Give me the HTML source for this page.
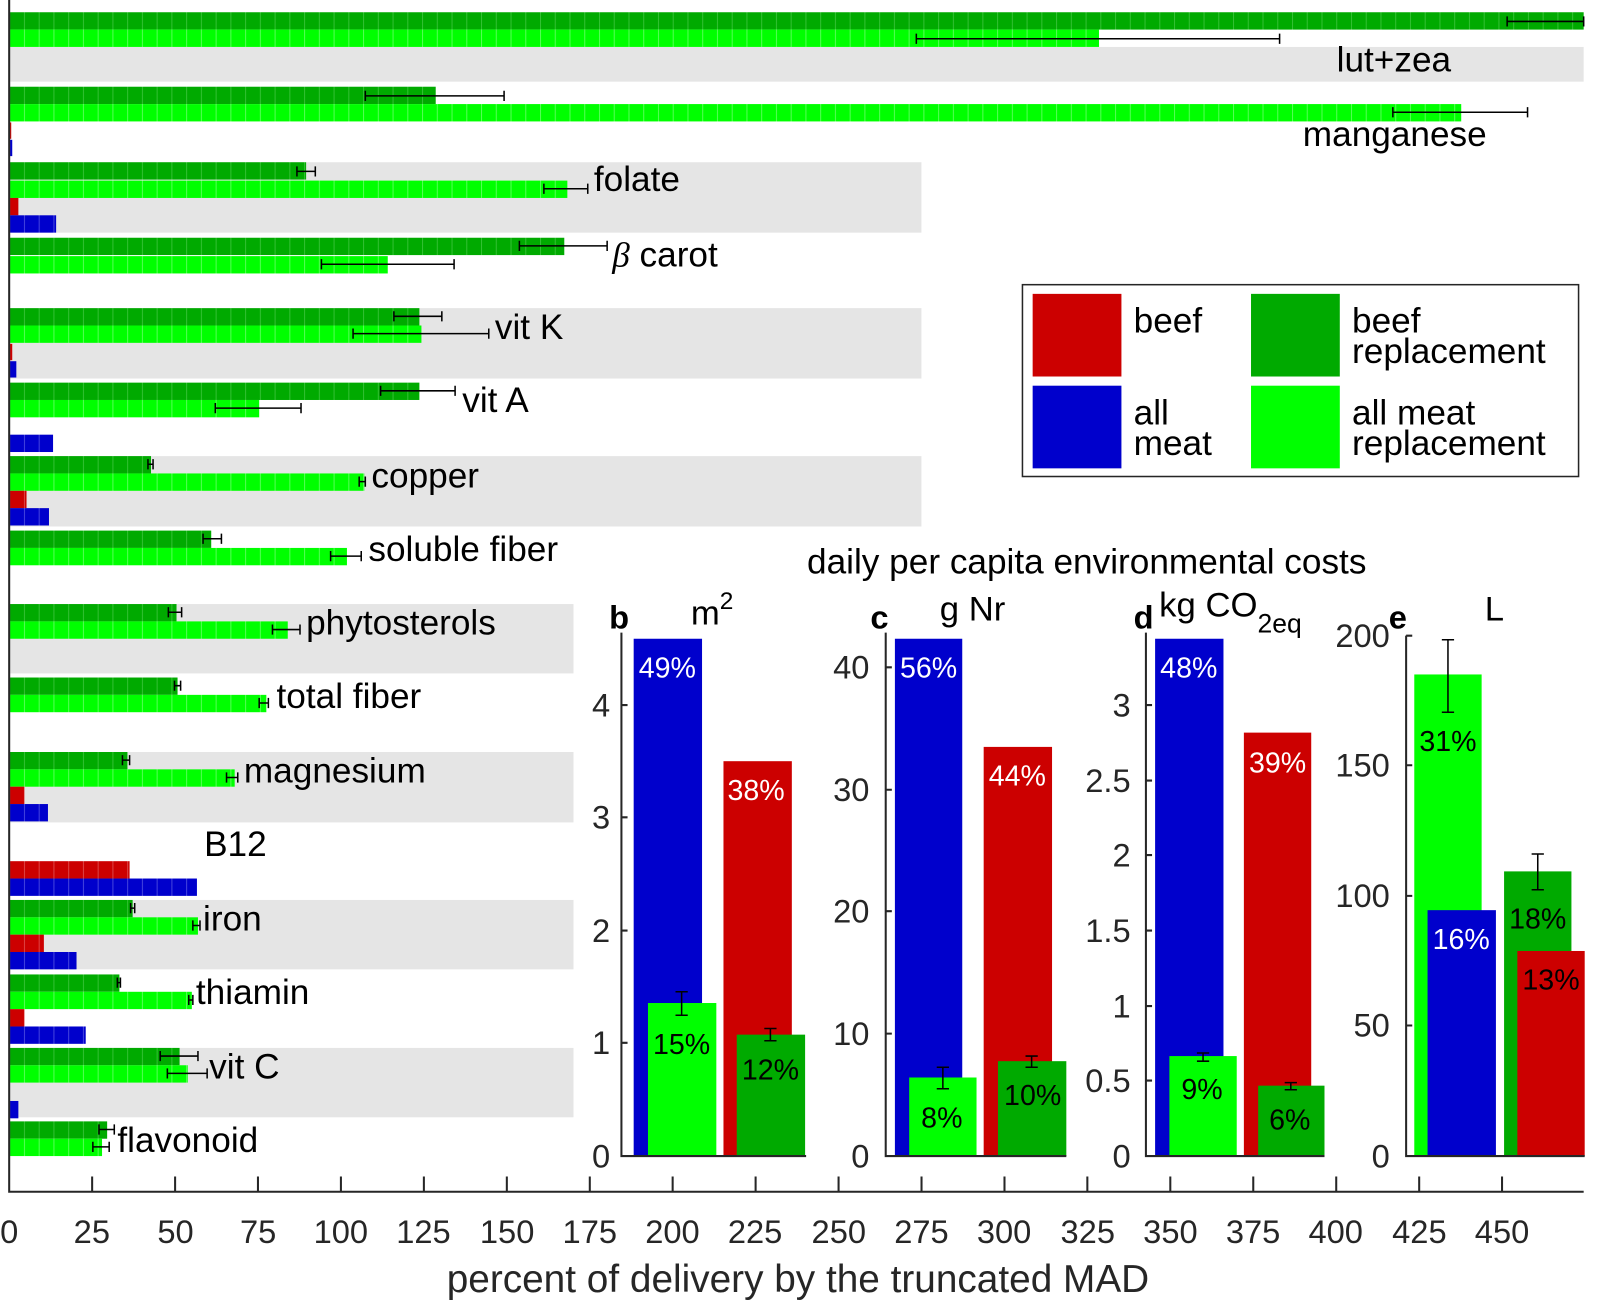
<!DOCTYPE html>
<html><head><meta charset="utf-8"><style>
html,body{margin:0;padding:0;background:#fff;}
svg{display:block;font-family:"Liberation Sans",sans-serif;}
</style></head><body>
<svg width="1600" height="1303" viewBox="0 0 1568 1277" preserveAspectRatio="none" xmlns="http://www.w3.org/2000/svg">
<defs>
<pattern id="pd" patternUnits="userSpaceOnUse" width="14.45" height="20" x="9"><rect width="14.45" height="20" fill="#00aa00"/><rect width="1" height="20" fill="#33c033"/></pattern>
<pattern id="pl" patternUnits="userSpaceOnUse" width="14.45" height="20" x="9"><rect width="14.45" height="20" fill="#00ff00"/><rect width="1" height="20" fill="#55ff55"/></pattern>
<pattern id="pr" patternUnits="userSpaceOnUse" width="14.45" height="20" x="9"><rect width="14.45" height="20" fill="#cc0000"/><rect width="1" height="20" fill="#dd4444"/></pattern>
<pattern id="pb" patternUnits="userSpaceOnUse" width="14.45" height="20" x="9"><rect width="14.45" height="20" fill="#0000cc"/><rect width="1" height="20" fill="#4444dd"/></pattern>
</defs>
<g fill="#e5e5e5">
<rect x="9" y="46" width="1543" height="34"/>
<rect x="9" y="159" width="894" height="69"/>
<rect x="9" y="302" width="894" height="69"/>
<rect x="9" y="447" width="894" height="69"/>
<rect x="9" y="592" width="553" height="68"/>
<rect x="9" y="737" width="553" height="69"/>
<rect x="9" y="882" width="553" height="68"/>
<rect x="9" y="1027" width="553" height="68"/>
</g>
<g>
<rect x="9" y="12" width="1543" height="17" fill="url(#pd)"/>
<rect x="9" y="29" width="1068" height="17" fill="url(#pl)"/>
<rect x="9" y="85" width="418" height="17" fill="url(#pd)"/>
<rect x="9" y="102" width="1423" height="17" fill="url(#pl)"/>
<rect x="9" y="120" width="2" height="16" fill="url(#pr)"/>
<rect x="9" y="137" width="3" height="16" fill="url(#pb)"/>
<rect x="9" y="159" width="291" height="17" fill="url(#pd)"/>
<rect x="9" y="177" width="547" height="17" fill="url(#pl)"/>
<rect x="9" y="194" width="9" height="17" fill="url(#pr)"/>
<rect x="9" y="211" width="46" height="17" fill="url(#pb)"/>
<rect x="9" y="233" width="544" height="17" fill="url(#pd)"/>
<rect x="9" y="251" width="371" height="17" fill="url(#pl)"/>
<rect x="9" y="302" width="402" height="17" fill="url(#pd)"/>
<rect x="9" y="319" width="404" height="17" fill="url(#pl)"/>
<rect x="9" y="337" width="3" height="16" fill="url(#pr)"/>
<rect x="9" y="354" width="7" height="16" fill="url(#pb)"/>
<rect x="9" y="375" width="402" height="17" fill="url(#pd)"/>
<rect x="9" y="392" width="245" height="17" fill="url(#pl)"/>
<rect x="9" y="426" width="43" height="17" fill="url(#pb)"/>
<rect x="9" y="447" width="139" height="17" fill="url(#pd)"/>
<rect x="9" y="464" width="348" height="17" fill="url(#pl)"/>
<rect x="9" y="481" width="17" height="17" fill="url(#pr)"/>
<rect x="9" y="498" width="39" height="17" fill="url(#pb)"/>
<rect x="9" y="520" width="198" height="17" fill="url(#pd)"/>
<rect x="9" y="537" width="331" height="17" fill="url(#pl)"/>
<rect x="9" y="592" width="164" height="17" fill="url(#pd)"/>
<rect x="9" y="609" width="273" height="17" fill="url(#pl)"/>
<rect x="9" y="664" width="165" height="17" fill="url(#pd)"/>
<rect x="9" y="681" width="252" height="17" fill="url(#pl)"/>
<rect x="9" y="737" width="116" height="17" fill="url(#pd)"/>
<rect x="9" y="754" width="221" height="17" fill="url(#pl)"/>
<rect x="9" y="771" width="15" height="17" fill="url(#pr)"/>
<rect x="9" y="788" width="38" height="17" fill="url(#pb)"/>
<rect x="9" y="844" width="118" height="17" fill="url(#pr)"/>
<rect x="9" y="861" width="184" height="17" fill="url(#pb)"/>
<rect x="9" y="882" width="121" height="17" fill="url(#pd)"/>
<rect x="9" y="899" width="185" height="17" fill="url(#pl)"/>
<rect x="9" y="916" width="34" height="17" fill="url(#pr)"/>
<rect x="9" y="933" width="66" height="17" fill="url(#pb)"/>
<rect x="9" y="955" width="108" height="17" fill="url(#pd)"/>
<rect x="9" y="972" width="179" height="17" fill="url(#pl)"/>
<rect x="9" y="989" width="15" height="17" fill="url(#pr)"/>
<rect x="9" y="1006" width="75" height="17" fill="url(#pb)"/>
<rect x="9" y="1027" width="167" height="17" fill="url(#pd)"/>
<rect x="9" y="1044" width="175" height="17" fill="url(#pl)"/>
<rect x="9" y="1079" width="9" height="17" fill="url(#pb)"/>
<rect x="9" y="1099" width="96" height="17" fill="url(#pd)"/>
<rect x="9" y="1116" width="91" height="17" fill="url(#pl)"/>
</g>
<g stroke="#000" stroke-width="1.5" fill="none">
<path d="M1477 21H1552M1477 16V26M1552 16V26"/>
<path d="M898 38H1254M898 33V43M1254 33V43"/>
<path d="M358 94H494M358 89V99M494 89V99"/>
<path d="M1365 110H1497M1365 105V115M1497 105V115"/>
<path d="M291 168H309M291 163V173M309 163V173"/>
<path d="M533 185H576M533 180V190M576 180V190"/>
<path d="M509 241H595M509 236V246M595 236V246"/>
<path d="M315 259H445M315 254V264M445 254V264"/>
<path d="M386 310H433M386 305V315M433 305V315"/>
<path d="M346 327H479M346 322V332M479 322V332"/>
<path d="M373 383H446M373 378V388M446 378V388"/>
<path d="M211 400H295M211 395V405M295 395V405"/>
<path d="M145 455H150M145 450V460M150 450V460"/>
<path d="M352 472H358M352 467V477M358 467V477"/>
<path d="M199 528H217M199 523V533M217 523V533"/>
<path d="M324 545H354M324 540V550M354 540V550"/>
<path d="M165 600H178M165 595V605M178 595V605"/>
<path d="M267 617H294M267 612V622M294 612V622"/>
<path d="M171 672H177M171 667V677M177 667V677"/>
<path d="M254 689H263M254 684V694M263 684V694"/>
<path d="M120 745H127M120 740V750M127 740V750"/>
<path d="M222 762H233M222 757V767M233 757V767"/>
<path d="M128 890H132M128 885V895M132 885V895"/>
<path d="M189 907H196M189 902V912M196 902V912"/>
<path d="M115 963H118M115 958V968M118 958V968"/>
<path d="M185 980H189M185 975V985M189 975V985"/>
<path d="M157 1035H194M157 1030V1040M194 1030V1040"/>
<path d="M164 1052H203M164 1047V1057M203 1047V1057"/>
<path d="M97 1107H112M97 1102V1112M112 1102V1112"/>
<path d="M91 1124H107M91 1119V1129M107 1119V1129"/>
</g>
<g font-size="34.5" fill="#000">
<text x="1366" y="70" text-anchor="middle">lut+zea</text>
<text x="1457" y="143" text-anchor="end">manganese</text>
<text x="582" y="187">folate</text>
<text x="600" y="261"><tspan font-family="Liberation Serif" font-style="italic">β</tspan> carot</text>
<text x="485" y="332">vit K</text>
<text x="453" y="404">vit A</text>
<text x="364" y="478">copper</text>
<text x="361" y="550">soluble fiber</text>
<text x="300" y="622">phytosterols</text>
<text x="271" y="694">total fiber</text>
<text x="239" y="767">magnesium</text>
<text x="200" y="839">B12</text>
<text x="199" y="912">iron</text>
<text x="192" y="984">thiamin</text>
<text x="205" y="1057">vit C</text>
<text x="115" y="1129">flavonoid</text>
</g>
<g stroke="#262626" stroke-width="2" fill="none">
<path d="M9 0V1168H1552"/>
<path d="M90.3 1168V1153M171.6 1168V1153M252.8 1168V1153M334.1 1168V1153M415.4 1168V1153M496.7 1168V1153M578 1168V1153M659.2 1168V1153M740.5 1168V1153M821.8 1168V1153M903.1 1168V1153M984.4 1168V1153M1065.6 1168V1153M1146.9 1168V1153M1228.2 1168V1153M1309.5 1168V1153M1390.8 1168V1153M1472 1168V1153"/>
</g>
<g font-size="32" fill="#262626" text-anchor="middle">
<text x="9" y="1218">0</text><text x="90" y="1218">25</text><text x="172" y="1218">50</text><text x="253" y="1218">75</text><text x="334" y="1218">100</text><text x="415" y="1218">125</text><text x="497" y="1218">150</text><text x="578" y="1218">175</text><text x="659" y="1218">200</text><text x="740" y="1218">225</text><text x="822" y="1218">250</text><text x="903" y="1218">275</text><text x="984" y="1218">300</text><text x="1066" y="1218">325</text><text x="1147" y="1218">350</text><text x="1228" y="1218">375</text><text x="1309" y="1218">400</text><text x="1391" y="1218">425</text><text x="1472" y="1218">450</text>
<text x="782" y="1266" font-size="38">percent of delivery by the truncated MAD</text>
</g>
<rect x="1002" y="279" width="545" height="188" fill="#fff" stroke="#262626" stroke-width="1.5"/>
<rect x="1012" y="288" width="87" height="81" fill="#cc0000"/>
<rect x="1012" y="378" width="87" height="81" fill="#0000cc"/>
<rect x="1226" y="288" width="87" height="81" fill="#00aa00"/>
<rect x="1226" y="378" width="87" height="81" fill="#00ff00"/>
<g font-size="34.5" fill="#000">
<text x="1111" y="326">beef</text>
<text x="1111" y="416">all</text><text x="1111" y="446">meat</text>
<text x="1325" y="326">beef</text><text x="1325" y="356">replacement</text>
<text x="1325" y="416">all meat</text><text x="1325" y="446">replacement</text>
</g>
<text x="1065" y="562" font-size="34.5" text-anchor="middle">daily per capita environmental costs</text>
<rect x="621" y="626" width="67" height="507" fill="#0000cc"/>
<rect x="709" y="746" width="67" height="387" fill="#cc0000"/>
<rect x="635" y="983" width="67" height="150" fill="#00ff00"/>
<rect x="722" y="1014" width="67" height="119" fill="#00aa00"/>
<g stroke="#000" stroke-width="1.5" fill="none"><path d="M668 972V995M662 972H674M662 995H674"/><path d="M755 1008V1020M749 1008H761M749 1020H761"/></g>
<rect x="877" y="626" width="66" height="507" fill="#0000cc"/>
<rect x="964" y="732" width="67" height="401" fill="#cc0000"/>
<rect x="891" y="1056" width="66" height="77" fill="#00ff00"/>
<rect x="978" y="1040" width="67" height="93" fill="#00aa00"/>
<g stroke="#000" stroke-width="1.5" fill="none"><path d="M924 1046V1067M918 1046H930M918 1067H930"/><path d="M1011 1035V1046M1005 1035H1017M1005 1046H1017"/></g>
<rect x="1132" y="626" width="67" height="507" fill="#0000cc"/>
<rect x="1219" y="718" width="66" height="415" fill="#cc0000"/>
<rect x="1146" y="1035" width="66" height="98" fill="#00ff00"/>
<rect x="1233" y="1064" width="65" height="69" fill="#00aa00"/>
<g stroke="#000" stroke-width="1.5" fill="none"><path d="M1179 1032V1040M1173 1032H1185M1173 1040H1185"/><path d="M1265 1061V1068M1259 1061H1271M1259 1068H1271"/></g>
<rect x="1386" y="661" width="66" height="472" fill="#00ff00"/>
<rect x="1399" y="892" width="67" height="241" fill="#0000cc"/>
<rect x="1474" y="854" width="66" height="279" fill="#00aa00"/>
<rect x="1487" y="932" width="66" height="201" fill="#cc0000"/>
<g stroke="#000" stroke-width="1.5" fill="none"><path d="M1419 627V698M1413 627H1425M1413 698H1425"/><path d="M1507 837V872M1501 837H1513M1501 872H1513"/></g>
<g stroke="#262626" stroke-width="2" fill="none">
<path d="M609 620V1133H790"/>
<path d="M609 1022H615M609 912H615M609 801H615M609 691H615"/>
<path d="M868 620V1133H1045"/>
<path d="M868 1013H874M868 893H874M868 774H874M868 654H874"/>
<path d="M1123 620V1133H1298"/>
<path d="M1123 1059H1129M1123 986H1129M1123 912H1129M1123 838H1129M1123 765H1129M1123 691H1129"/>
<path d="M1378 623V1133H1553"/>
<path d="M1378 1005H1384M1378 878H1384M1378 750H1384M1378 623H1384"/>
</g>
<g font-size="32" fill="#262626" text-anchor="end">
<text x="598" y="1144">0</text><text x="598" y="1033">1</text><text x="598" y="923">2</text><text x="598" y="812">3</text><text x="598" y="702">4</text>
<text x="852" y="1144">0</text><text x="852" y="1024">10</text><text x="852" y="904">20</text><text x="852" y="785">30</text><text x="852" y="665">40</text>
<text x="1108" y="1144">0</text><text x="1108" y="1070">0.5</text><text x="1108" y="997">1</text><text x="1108" y="923">1.5</text><text x="1108" y="849">2</text><text x="1108" y="776">2.5</text><text x="1108" y="702">3</text>
<text x="1362" y="1144">0</text><text x="1362" y="1016">50</text><text x="1362" y="889">100</text><text x="1362" y="761">150</text><text x="1362" y="634">200</text>
</g>
<g font-size="32" font-weight="bold" fill="#000">
<text x="597" y="616">b</text><text x="853" y="616">c</text><text x="1111" y="616">d</text><text x="1361" y="616">e</text>
</g>
<g font-size="34" fill="#000">
<text x="677" y="612">m<tspan font-size="24" dy="-15">2</tspan></text>
<text x="921" y="608">g Nr</text>
<text x="1136" y="604">kg CO<tspan font-size="26" dy="16">2eq</tspan></text>
<text x="1455" y="608">L</text>
</g>
<g font-size="28" text-anchor="middle">
<text x="654" y="664" fill="#fff">49%</text>
<text x="741" y="784" fill="#fff">38%</text>
<text x="668" y="1033" fill="#000">15%</text>
<text x="755" y="1058" fill="#000">12%</text>
<text x="910" y="664" fill="#fff">56%</text>
<text x="997" y="770" fill="#fff">44%</text>
<text x="923" y="1105" fill="#000">8%</text>
<text x="1012" y="1083" fill="#000">10%</text>
<text x="1165" y="664" fill="#fff">48%</text>
<text x="1252" y="757" fill="#fff">39%</text>
<text x="1178" y="1077" fill="#000">9%</text>
<text x="1264" y="1107" fill="#000">6%</text>
<text x="1419" y="736" fill="#000">31%</text>
<text x="1432" y="930" fill="#fff">16%</text>
<text x="1507" y="910" fill="#000">18%</text>
<text x="1520" y="970" fill="#000">13%</text>
</g>
</svg>
</body></html>
